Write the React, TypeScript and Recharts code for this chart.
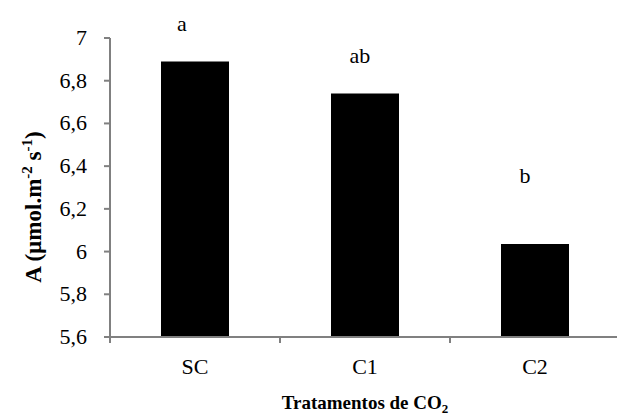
import { Bar, BarChart, LabelList, XAxis, YAxis } from "recharts";

const treatments = ["SC", "C1", "C2"];
const photosynthesis = [6.89, 6.74, 6.035];
const letters = ["a", "ab", "b"];
const yTicks = [5.6, 5.8, 6, 6.2, 6.4, 6.6, 6.8, 7];

// nudges for the significance letters (dx, dy from bar top centre)
const letterNudge: [number, number][] = [
  [-13, -30],
  [-5, -31],
  [-10, -61],
];

const data = treatments.map((t, i) => ({ name: t, value: photosynthesis[i], letter: letters[i] }));

const FONT = "Liberation Serif";
const AXIS = "#808080";

const CHART_W = 620;
const CHART_H = 415;
const MARGIN_TOP = 38;
const X_AXIS_H = 78;
const Y_AXIS_W = 110;
const PLOT_H = CHART_H - MARGIN_TOP - X_AXIS_H;

const fmt = (v: number) => String(v).replace(".", ",");

function LetterLabel(props: any) {
  const { x, y, width, index, value } = props;
  const [dx, dy] = letterNudge[index];
  return (
    <text x={x + width / 2 + dx} y={y + dy} textAnchor="middle" fontFamily={FONT} fontSize={22} fill="#000">
      {value}
    </text>
  );
}

// category label, band-edge tick marks, and the axis frame drawn from the first band
function CategoryTick(props: any) {
  const { x, y, payload, index, visibleTicksCount } = props;
  const half = payload.offset ?? 85;
  const left = x - half;
  return (
    <g>
      {index === 0 && (
        <>
          <rect x={left} y={y - 1} width={half * 2 * visibleTicksCount} height={2} fill={AXIS} />
          <rect x={left - 1} y={y - PLOT_H} width={2} height={PLOT_H} fill={AXIS} />
        </>
      )}
      <rect x={left - 1} y={y} width={2} height={6} fill={AXIS} />
      {index === visibleTicksCount - 1 && <rect x={x + half - 1} y={y} width={2} height={6} fill={AXIS} />}
      <text x={x} y={y + 37} textAnchor="middle" fontFamily={FONT} fontSize={22} fill="#000">
        {payload.value}
      </text>
    </g>
  );
}

// value label with its outward tick mark
function ValueTick(props: any) {
  const { x, y, payload } = props;
  return (
    <g>
      <rect x={Number(x) + 17} y={Number(y) - 1} width={6} height={2} fill={AXIS} />
      <text x={x} y={y} dy={7} textAnchor="end" fontFamily={FONT} fontSize={22} fill="#000">
        {fmt(payload.value)}
      </text>
    </g>
  );
}

function YTitle() {
  return (
    <text transform="translate(41,207) rotate(-90)" textAnchor="middle" fontFamily={FONT} fontSize={23} fontWeight="bold" fill="#000">
      <tspan>A (µmol.m</tspan>
      <tspan fontSize={15} dy={-9}>-2</tspan>
      <tspan dy={9}> s</tspan>
      <tspan fontSize={15} dy={-9}>-1</tspan>
      <tspan dy={9}>)</tspan>
    </text>
  );
}

function XTitle() {
  return (
    <text x={365} y={409} textAnchor="middle" fontFamily={FONT} fontSize={19} fontWeight="bold" fill="#000">
      Tratamentos de CO<tspan fontSize={13} dy={4}>2</tspan>
    </text>
  );
}

export default function App() {
  return (
    <div style={{ position: "absolute", left: 0, top: 0, width: 617, height: 415, overflow: "hidden", background: "#fff", fontFamily: FONT }}>
      <BarChart width={CHART_W} height={CHART_H} data={data} margin={{ top: MARGIN_TOP, right: 0, left: 0, bottom: 0 }} barCategoryGap="30%">
        <XAxis
          dataKey="name"
          height={X_AXIS_H}
          tickLine={false}
          tickSize={0}
          tickMargin={0}
          stroke={AXIS}
          strokeWidth={2}
          tick={<CategoryTick />}
          label={<XTitle />}
        />
        <YAxis
          width={Y_AXIS_W}
          domain={[5.6, 7]}
          ticks={yTicks}
          interval={0}
          allowDataOverflow
          tickLine={false}
          tickSize={6}
          tickMargin={17}
          stroke={AXIS}
          strokeWidth={2}
          tick={<ValueTick />}
          label={<YTitle />}
        />
        <Bar dataKey="value" fill="#000" isAnimationActive={false}>
          <LabelList dataKey="letter" content={<LetterLabel />} />
        </Bar>
      </BarChart>
    </div>
  );
}
